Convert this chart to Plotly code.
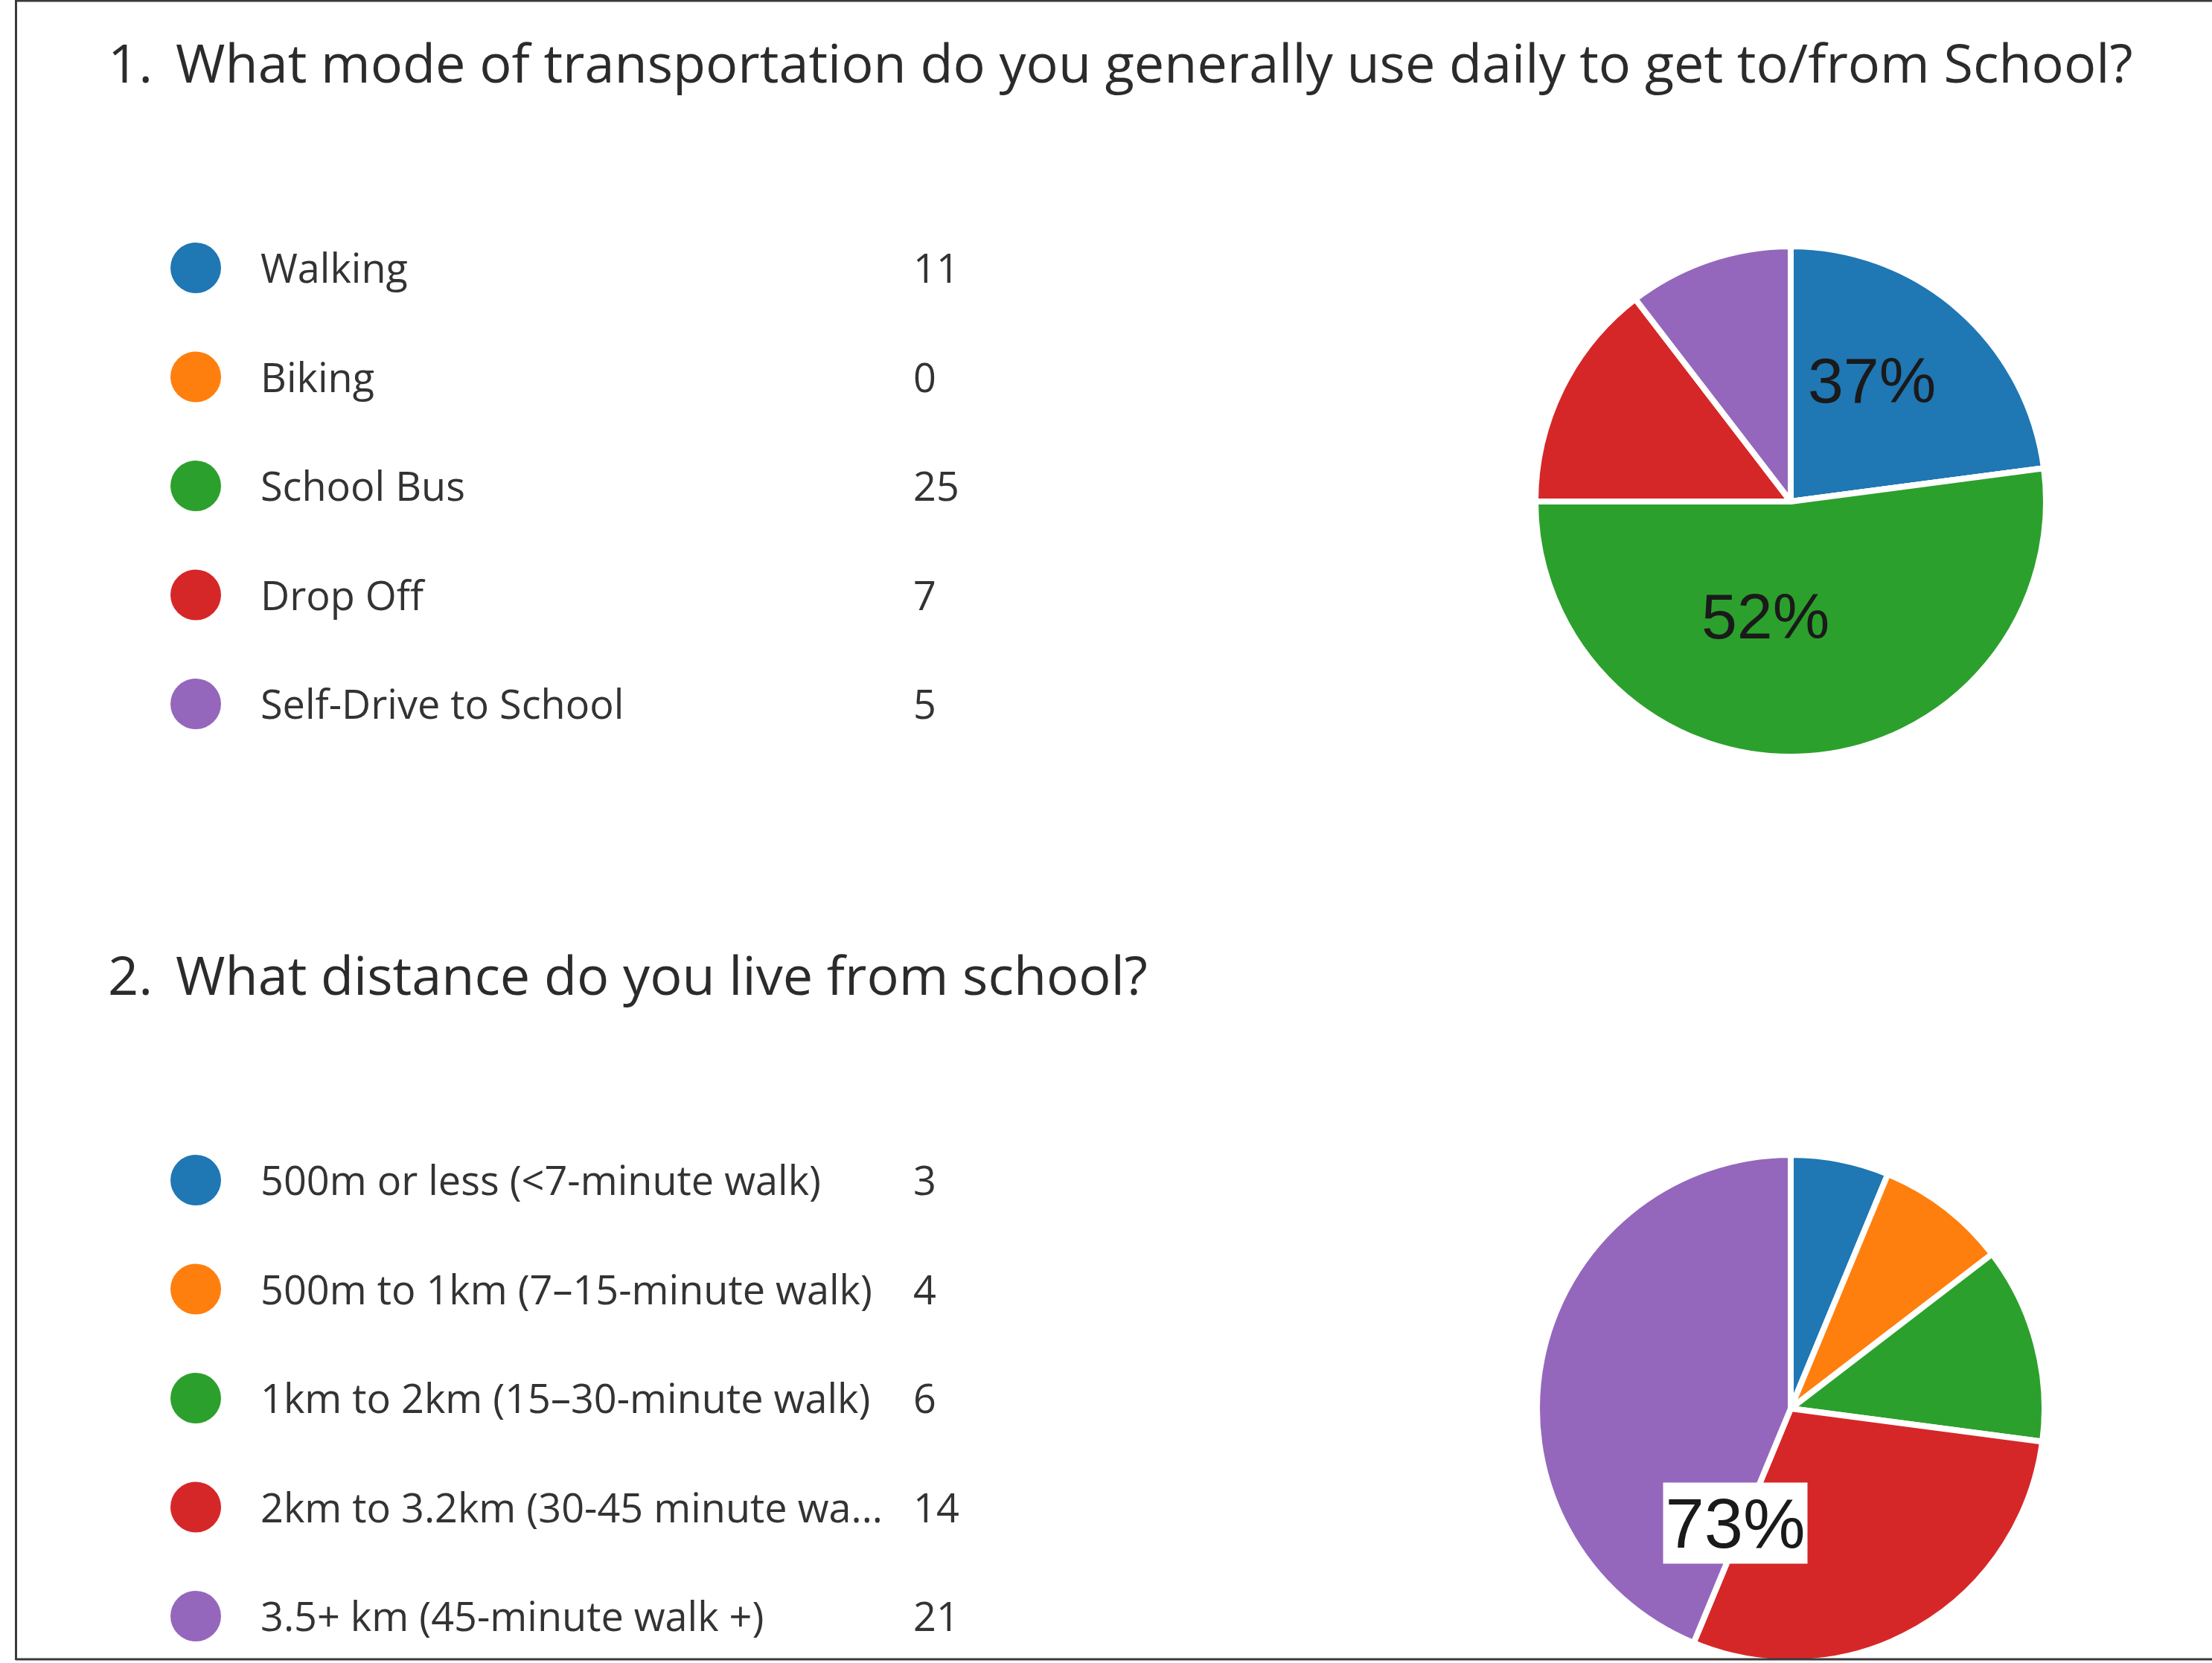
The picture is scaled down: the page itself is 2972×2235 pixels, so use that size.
import plotly.graph_objects as go

# Canvas size in pixels
W, H = 2972, 2235

# ---- Survey question 1: mode of transportation ----
q1_number = "1."
q1_title = "What mode of transportation do you generally use daily to get to/from School?"
q1_labels = ["Walking", "Biking", "School Bus", "Drop Off", "Self-Drive to School"]
q1_counts = [11, 0, 25, 7, 5]
q1_callouts = ["37%", "52%"]

# ---- Survey question 2: distance from school ----
q2_number = "2."
q2_title = "What distance do you live from school?"
q2_labels = [
    "500m or less (<7-minute walk)",
    "500m to 1km (7\u201315-minute walk)",
    "1km to 2km (15\u201330-minute walk)",
    "2km to 3.2km (30-45 minute wa...",
    "3.5+ km (45-minute walk +)",
]
q2_counts = [3, 4, 6, 14, 21]
q2_callouts = ["73%"]

palette = ["#1f77b4", "#ff7f0e", "#2ca02c", "#d62728", "#9467bd"]

TEXT_FONT = "Open Sans"
TEXT_COLOR = "#333333"
TITLE_COLOR = "#2b2b2b"
PCT_FONT = "Liberation Sans, Arial"


def px_x(x):
    return x / W


def px_y(y):
    # pixel row (from top) -> paper fraction (from bottom)
    return 1 - y / H


def pie_domain(cx, cy, r):
    return dict(
        x=[px_x(cx - r), px_x(cx + r)],
        y=[max(0.0, px_y(cy + r)), min(1.0, px_y(cy - r))],
    )


fig = go.Figure()

# Pie charts
pies = [
    (q1_labels, q1_counts, (2406, 674, 343)),
    (q2_labels, q2_counts, (2406, 1893, 341)),
]
for labels, counts, (cx, cy, r) in pies:
    fig.add_trace(go.Pie(
        labels=labels,
        values=counts,
        sort=False,
        direction="clockwise",
        rotation=0,
        textinfo="none",
        marker=dict(colors=palette, line=dict(color="white", width=8)),
        domain=pie_domain(cx, cy, r),
        showlegend=False,
    ))

# Legend blocks (dot, label, count) for both questions
legend_blocks = [
    (q1_labels, q1_counts, 360),
    (q2_labels, q2_counts, 1586),
]
ROW_STEP = 146.5
DOT_X, LABEL_X, COUNT_X = 263, 348, 1225
LEGEND_SIZE = 54

annotations = []
for labels, counts, y0 in legend_blocks:
    ys = [y0 + i * ROW_STEP for i in range(len(labels))]
    fig.add_trace(go.Scatter(
        x=[DOT_X] * len(labels),
        y=ys,
        mode="markers",
        marker=dict(size=68, color=palette, line=dict(width=0)),
        hoverinfo="skip",
        showlegend=False,
        cliponaxis=False,
    ))
    for lab, cnt, y in zip(labels, counts, ys):
        annotations.append(dict(
            x=LABEL_X, y=y - 1, xref="x", yref="y", text=lab, showarrow=False,
            xanchor="left", yanchor="middle",
            font=dict(family=TEXT_FONT, size=LEGEND_SIZE, color=TEXT_COLOR),
        ))
        annotations.append(dict(
            x=COUNT_X, y=y - 1, xref="x", yref="y", text=str(cnt), showarrow=False,
            xanchor="left", yanchor="middle",
            font=dict(family=TEXT_FONT, size=LEGEND_SIZE, color=TEXT_COLOR),
        ))

# Question titles
for num, title, y in [(q1_number, q1_title, 83), (q2_number, q2_title, 1309)]:
    annotations.append(dict(
        x=143, y=y, xref="x", yref="y", text=num, showarrow=False,
        xanchor="left", yanchor="middle",
        font=dict(family=TEXT_FONT, size=72, color=TITLE_COLOR),
    ))
    annotations.append(dict(
        x=234, y=y, xref="x", yref="y", text=title, showarrow=False,
        xanchor="left", yanchor="middle",
        font=dict(family=TEXT_FONT, size=72, color=TITLE_COLOR),
    ))

# Percentage call-outs on the pies
annotations.append(dict(
    x=2515, y=511, xref="x", yref="y", text=q1_callouts[0], showarrow=False,
    xanchor="center", yanchor="middle",
    font=dict(family=PCT_FONT, size=86, color="#1a1a1a"),
))
annotations.append(dict(
    x=2372, y=828, xref="x", yref="y", text=q1_callouts[1], showarrow=False,
    xanchor="center", yanchor="middle",
    font=dict(family=PCT_FONT, size=86, color="#1a1a1a"),
))
annotations.append(dict(
    x=2331, y=2047, xref="x", yref="y", text=q2_callouts[0], showarrow=False,
    xanchor="center", yanchor="middle",
    width=193, height=108, borderpad=0, bgcolor="white",
    font=dict(family=PCT_FONT, size=94, color="#1a1a1a"),
))

# Frame lines (left, top, bottom)
frame = dict(color="#3a3a3a", width=3)
shapes = [
    dict(type="line", xref="x", yref="y", x0=21.5, x1=21.5, y0=0, y1=2231, line=frame, layer="above"),
    dict(type="line", xref="x", yref="y", x0=21, x1=W, y0=1, y1=1, line=frame, layer="above"),
    dict(type="line", xref="x", yref="y", x0=21, x1=W, y0=2230, y1=2230, line=frame, layer="above"),
]

fig.update_layout(
    width=W, height=H,
    margin=dict(l=0, r=0, t=0, b=0),
    paper_bgcolor="white", plot_bgcolor="rgba(0,0,0,0)",
    xaxis=dict(range=[0, W], visible=False, domain=[0, 1], fixedrange=True),
    yaxis=dict(range=[H, 0], visible=False, domain=[0, 1], fixedrange=True),
    annotations=annotations,
    shapes=shapes,
    showlegend=False,
)

fig.write_html("out.html")
